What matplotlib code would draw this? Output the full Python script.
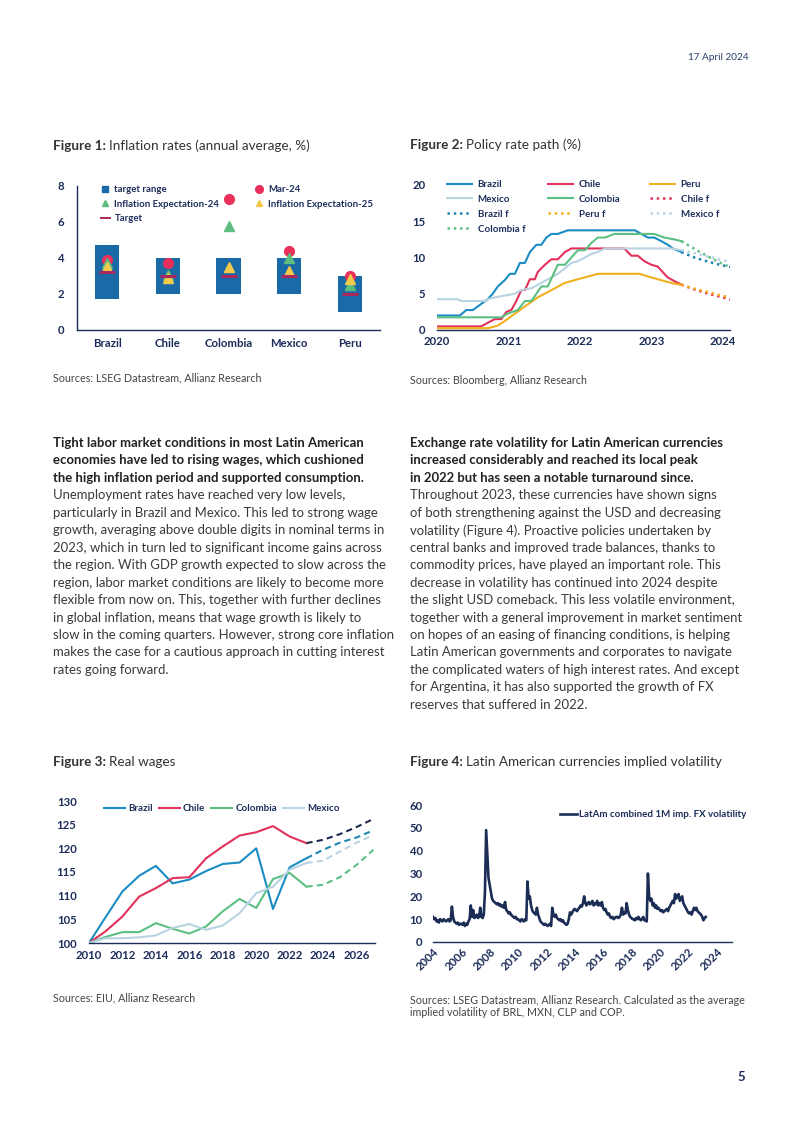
import matplotlib
matplotlib.use("Agg")
import matplotlib.pyplot as plt
from matplotlib.lines import Line2D
import numpy as np
import pandas as pd

# ---------------- data ----------------
# Figure 1
f1_countries = ["Brazil", "Chile", "Colombia", "Mexico", "Peru"]
f1_range_low = [1.75, 2.0, 2.0, 2.0, 1.0]
f1_range_high = [4.75, 4.0, 4.0, 4.0, 3.0]
f1_target = [3.25, 3.0, 3.0, 3.0, 2.0]
f1_mar24 = [3.9, 3.7, 7.3, 4.4, 3.0]
f1_exp24 = [3.7, 3.05, 5.8, 4.0, 2.5]
f1_exp25 = [3.5, 2.9, 3.5, 3.3, 2.85]

# Figure 2 (policy rates)
br_x = [2020.0, 2020.32, 2020.41, 2020.50, 2020.57, 2020.71, 2020.78, 2020.85, 2020.95, 2021.02, 2021.09,
        2021.16, 2021.23, 2021.30, 2021.39, 2021.46, 2021.53, 2021.60, 2021.69, 2021.83, 2022.77, 2022.86,
        2022.95, 2023.04, 2023.14, 2023.23, 2023.30, 2023.42]
br_y = [2.0, 2.0, 2.75, 2.75, 3.25, 4.25, 5.0, 6.0, 6.9, 7.75, 7.75, 9.25, 9.25, 10.75, 11.75, 11.75,
        12.75, 13.25, 13.25, 13.75, 13.75, 13.25, 12.75, 12.75, 12.25, 11.75, 11.25, 10.75]
cl_x = [2020.0, 2020.62, 2020.71, 2020.81, 2020.90, 2020.97, 2021.04, 2021.11, 2021.18, 2021.23, 2021.30,
        2021.37, 2021.41, 2021.51, 2021.60, 2021.69, 2021.79, 2021.88, 2022.62, 2022.72, 2022.81, 2022.90,
        2023.00, 2023.09, 2023.18, 2023.23, 2023.32, 2023.42]
cl_y = [0.5, 0.5, 1.0, 1.5, 1.5, 2.5, 2.75, 4.0, 5.5, 5.5, 7.0, 7.0, 8.0, 9.0, 9.75, 9.75, 10.75, 11.25,
        11.25, 10.25, 10.25, 9.5, 9.0, 8.75, 7.75, 7.25, 6.75, 6.25]
pe_x = [2020.0, 2020.71, 2020.85, 2020.95, 2021.09, 2021.23, 2021.41, 2021.60, 2021.79, 2021.97, 2022.16,
        2022.25, 2022.83, 2023.00, 2023.18, 2023.32, 2023.42]
pe_y = [0.25, 0.25, 0.6, 1.25, 2.25, 3.25, 4.5, 5.5, 6.5, 7.0, 7.5, 7.75, 7.75, 7.25, 6.75, 6.4, 6.25]
mx_x = [2020.0, 2020.29, 2020.34, 2020.67, 2020.71, 2020.81, 2020.95, 2021.09, 2021.18, 2021.32, 2021.46,
        2021.60, 2021.69, 2021.79, 2021.88, 2021.97, 2022.07, 2022.16, 2022.25, 2022.35, 2023.28, 2023.42]
mx_y = [4.25, 4.25, 4.0, 4.0, 4.25, 4.5, 4.75, 5.0, 5.5, 5.75, 6.5, 7.25, 7.75, 8.5, 9.25, 9.5, 10.0,
        10.5, 10.75, 11.25, 11.25, 11.0]
co_x = [2020.0, 2020.90, 2020.99, 2021.13, 2021.23, 2021.32, 2021.46, 2021.55, 2021.69, 2021.79, 2021.88,
        2021.97, 2022.07, 2022.16, 2022.25, 2022.35, 2022.48, 2023.04, 2023.18, 2023.32, 2023.42]
co_y = [1.75, 1.75, 2.25, 2.75, 4.0, 4.0, 6.0, 6.0, 9.0, 9.0, 10.0, 11.0, 11.0, 12.0, 12.75, 12.75,
        13.25, 13.25, 12.75, 12.5, 12.25]
fc_x = [2023.42, 2023.6, 2023.8, 2024.0, 2024.1]
br_f = [10.75, 10.0, 9.4, 8.9, 8.7]
cl_f = [6.25, 5.6, 5.0, 4.5, 4.2]
pe_f = [6.25, 5.7, 5.2, 4.7, 4.5]
mx_f = [11.0, 10.6, 10.1, 9.6, 9.4]
co_f = [12.25, 11.2, 10.1, 9.1, 8.7]

# Figure 3 (real wages, 2010 = 100)
w_years = list(range(2010, 2024))
w_fyears = list(range(2023, 2028))
w_brazil = [100, 105.5, 110.9, 114.2, 116.3, 112.6, 113.4, 115.2, 116.7, 117.0, 120.0, 107.2, 116.0, 117.9]
w_chile = [100, 102.5, 105.6, 109.8, 111.6, 113.7, 113.9, 117.9, 120.4, 122.7, 123.4, 124.7, 122.5, 121.1]
w_colombia = [100, 101.3, 102.3, 102.3, 104.2, 103.0, 102.0, 103.5, 106.7, 109.3, 107.4, 113.5, 114.8, 111.9]
w_mexico = [100, 101.0, 101.0, 101.2, 101.6, 103.2, 104.0, 102.8, 103.7, 106.3, 110.5, 111.9, 115.5, 116.9]
w_brazil_f = [117.9, 119.7, 121.2, 122.3, 123.8]
w_chile_f = [121.1, 121.8, 123.0, 124.5, 126.2]
w_colombia_f = [111.9, 112.3, 113.9, 116.5, 119.7]
w_mexico_f = [116.9, 117.4, 119.3, 121.2, 122.8]

# Figure 4 (implied volatility, monthly, Jan 2004 onwards)
v2004 = [11, 10, 10.5, 9, 9.5, 8.5, 10, 9.5, 9, 10, 9.5, 9]
v2005 = [9.5, 10, 9, 9.5, 15.5, 11, 9, 8.5, 8, 8.5, 7.5, 8]
v2006 = [8, 7.5, 8.5, 7, 8, 7.5, 9, 10, 16, 11, 14, 10.5]
v2007 = [11, 12, 10.5, 11, 15, 11, 10.5, 12, 22, 49, 38, 28]
v2008 = [25, 22, 19, 18, 17.5, 17, 16.5, 17, 16, 16.5, 15.5, 16]
v2009 = [15, 17.5, 14, 13.5, 12.5, 13, 12, 11.5, 11, 10.5, 11, 10]
v2010 = [10, 9.5, 9, 10, 9.5, 9, 10, 9.5, 26.5, 19, 20, 16]
v2011 = [14, 13, 12.5, 12, 15, 12, 10.5, 9, 8.5, 8, 7.5, 8]
v2012 = [7.5, 7, 7.5, 8, 7, 15, 12, 11, 12, 10.5, 10, 9.5]
v2013 = [10, 9, 9.5, 8.5, 8, 7.5, 8, 10, 13, 12, 13, 14]
v2014 = [14.5, 14, 13.5, 14.5, 15, 16, 15.5, 17, 20, 17, 16, 17]
v2015 = [17.5, 16.5, 17, 18, 16, 17, 16.5, 18, 16, 17, 16, 17.5]
v2016 = [15, 14, 14.5, 13, 12, 12.5, 11, 10.5, 11, 10, 10.5, 11]
v2017 = [11, 10.5, 11, 12, 15, 12, 13, 12.5, 17, 14, 12, 11]
v2018 = [10.5, 10, 10, 9.5, 10.5, 10, 11, 10, 9.5, 10, 11, 9.5]
v2019 = [9.5, 9, 30, 20, 18, 19, 16, 17, 15, 16, 14.5, 15]
v2020 = [14, 13.5, 14, 13, 13.5, 14, 14.5, 13.5, 15, 16, 17, 18]
v2021 = [17, 21, 19, 20, 21, 18, 19, 20, 17, 16, 15, 14]
v2022 = [13, 12.5, 13, 12, 13.5, 15, 14, 15, 13.5, 13, 12.5, 12]
v2023 = [11, 9.5, 10.5, 11]

# ---------------- style ----------------
W, H = 802, 1133
FONT = ["Lato", "DejaVu Sans"]
plt.rcParams["font.family"] = FONT
NAVY = "#1c2d5a"
BODY = "#3a3a3a"
DARK = "#222222"

fig = plt.figure(figsize=(W / 100, H / 100), dpi=100)
fig.patch.set_facecolor("white")
renderer = fig.canvas.get_renderer()


def fx(x):
    return x / W


def fy(y):
    return 1 - y / H


def add_ax(x0, y0, x1, y1):
    return fig.add_axes([fx(x0), fy(y1), (x1 - x0) / W, (y1 - y0) / H])


def text_width(s, size, weight="normal"):
    t = fig.text(0, 0, s, fontsize=size, fontweight=weight)
    w = t.get_window_extent(renderer).width
    t.remove()
    return w


def fit_size(s, target_px, weight="normal"):
    return 10 * target_px / text_width(s, 10, weight)


def title(x, y, bold, rest, size):
    t = fig.text(fx(x), fy(y), bold, fontsize=size, fontweight="bold", color="#333333", va="center")
    w = t.get_window_extent(renderer).width
    fig.text(fx(x + w + 3), fy(y), rest, fontsize=size, color="#333333", va="center")


TICK = fit_size("Colombia", 48, "bold")
LEG = fit_size("Colombia f", 47, "bold")


def style_ax(ax, ypad, xpad):
    for s in ["top", "right", "left"]:
        ax.spines[s].set_visible(False)
    ax.spines["bottom"].set_color(NAVY)
    ax.spines["bottom"].set_linewidth(1.0)
    ax.tick_params(length=0, colors=NAVY, labelsize=TICK)
    ax.tick_params(axis="y", pad=ypad)
    ax.tick_params(axis="x", pad=xpad)
    for lab in ax.get_xticklabels() + ax.get_yticklabels():
        lab.set_fontweight("bold")
    ax.set_facecolor("none")


# header / footer
fig.text(fx(749), fy(57), "17 April 2024", fontsize=7.2, color="#2a3f6e", ha="right", va="center")
fig.text(fx(745), fy(1077), "5", fontsize=9.5, color=NAVY, ha="right", va="center", fontweight="bold")

# titles
tsize = fit_size("Figure 1: Inflation rates (annual average, %)", 255, "normal")
title(53, 146, "Figure 1:", "Inflation rates (annual average, %)", tsize)
title(410, 145, "Figure 2:", "Policy rate path (%)", tsize)
title(53, 762, "Figure 3:", "Real wages", tsize)
title(410, 762, "Figure 4:", "Latin American currencies implied volatility", tsize)

# sources
ssize = fit_size("Sources: LSEG Datastream, Allianz Research", 209)
fig.text(fx(53), fy(378), "Sources: LSEG Datastream, Allianz Research", fontsize=ssize, color="#444444", va="center")
fig.text(fx(410), fy(380), "Sources: Bloomberg, Allianz Research", fontsize=ssize, color="#444444", va="center")
fig.text(fx(53), fy(998), "Sources: EIU, Allianz Research", fontsize=ssize, color="#444444", va="center")
fig.text(fx(410), fy(1000), "Sources: LSEG Datastream, Allianz Research. Calculated as the average",
         fontsize=ssize, color="#444444", va="center")
fig.text(fx(410), fy(1013), "implied volatility of BRL, MXN, CLP and COP.", fontsize=ssize, color="#444444", va="center")

# body text
left_bold = ["Tight labor market conditions in most Latin American",
             "economies have led to rising wages, which cushioned",
             "the high inflation period and supported consumption."]
left_reg = ["Unemployment rates have reached very low levels,",
            "particularly in Brazil and Mexico. This led to strong wage",
            "growth, averaging above double digits in nominal terms in",
            "2023, which in turn led to significant income gains across",
            "the region. With GDP growth expected to slow across the",
            "region, labor market conditions are likely to become more",
            "flexible from now on. This, together with further declines",
            "in global inflation, means that wage growth is likely to",
            "slow in the coming quarters. However, strong core inflation",
            "makes the case for a cautious approach in cutting interest",
            "rates going forward."]
right_bold = ["Exchange rate volatility for Latin American currencies",
              "increased considerably and reached its local peak",
              "in 2022 but has seen a notable turnaround since."]
right_reg = ["Throughout 2023, these currencies have shown signs",
             "of both strengthening against the USD and decreasing",
             "volatility (Figure 4). Proactive policies undertaken by",
             "central banks and improved trade balances, thanks to",
             "commodity prices, have played an important role. This",
             "decrease in volatility has continued into 2024 despite",
             "the slight USD comeback. This less volatile environment,",
             "together with a general improvement in market sentiment",
             "on hopes of an easing of financing conditions, is helping",
             "Latin American governments and corporates to navigate",
             "the complicated waters of high interest rates. And except",
             "for Argentina, it has also supported the growth of FX",
             "reserves that suffered in 2022."]
bsize = fit_size("together with a general improvement in market sentiment", 335)
lh = 17.45
for col_x, bl, rg in [(53, left_bold, left_reg), (410, right_bold, right_reg)]:
    y = 443
    for line in bl:
        fig.text(fx(col_x), fy(y), line, fontsize=bsize, fontweight="bold", color=DARK, va="center")
        y += lh
    for line in rg:
        fig.text(fx(col_x), fy(y), line, fontsize=bsize, color=BODY, va="center")
        y += lh

# ---------------- Figure 1 ----------------
ax1 = add_ax(77, 186, 380, 330)
xs = np.arange(len(f1_countries))
BAR = "#1a6aa8"
heights = [h - l for h, l in zip(f1_range_high, f1_range_low)]
ax1.bar(xs, heights, bottom=f1_range_low, width=0.4, color=BAR, zorder=2)
ax1.plot(xs, f1_mar24, ls="none", marker="o", ms=7, color="#e8305a", zorder=3)
ax1.plot(xs, f1_exp24, ls="none", marker="^", ms=7, color="#5dbd7e", zorder=4)
ax1.plot(xs, f1_exp25, ls="none", marker="^", ms=7, color="#f2c94c", zorder=5)
ax1.plot(xs, f1_target, ls="none", marker="_", ms=11, mew=2.2, color="#a8285e", zorder=6)
ax1.set_xlim(-0.5, 4.5)
ax1.set_ylim(0, 8)
ax1.set_yticks([0, 2, 4, 6, 8])
ax1.set_xticks(xs)
ax1.set_xticklabels(f1_countries)
style_ax(ax1, 9, 6)
ax1.spines["left"].set_visible(True)
ax1.spines["left"].set_color(NAVY)
ax1.spines["left"].set_linewidth(1.0)
ax1.spines["left"].set_bounds(0, 8)

L1 = fit_size("Inflation Expectation-24", 104, "bold")
h_range = Line2D([], [], ls="none", marker="s", ms=4.5, color=BAR)
h_mar = Line2D([], [], ls="none", marker="o", ms=5.5, color="#e8305a")
h_e24 = Line2D([], [], ls="none", marker="^", ms=5, color="#5dbd7e")
h_e25 = Line2D([], [], ls="none", marker="^", ms=5, color="#f2c94c")
h_tgt = Line2D([], [], color="#a8285e", lw=1.4)
lg_kw = dict(frameon=False, labelcolor=NAVY, handlelength=0.9, handletextpad=0.5,
             labelspacing=0.6, borderpad=0, borderaxespad=0, loc="upper left",
             prop={"weight": "bold", "size": L1})
fig.legend([h_range, h_e24, h_tgt], ["target range", "Inflation Expectation-24", "Target"],
           bbox_to_anchor=(fx(101), fy(185)), **lg_kw)
fig.legend([h_mar, h_e25], ["Mar-24", "Inflation Expectation-25"],
           bbox_to_anchor=(fx(255), fy(185)), **lg_kw)

# ---------------- Figure 2 ----------------
ax2 = add_ax(437, 185, 730, 330)
C_BR, C_CL, C_PE, C_MX, C_CO = "#1b8cc3", "#e2315b", "#f2b01e", "#b9d3e2", "#5cbf84"
l_br, = ax2.plot(br_x, br_y, color=C_BR, lw=1.5)
l_cl, = ax2.plot(cl_x, cl_y, color=C_CL, lw=1.5)
l_pe, = ax2.plot(pe_x, pe_y, color=C_PE, lw=1.5)
l_mx, = ax2.plot(mx_x, mx_y, color=C_MX, lw=1.5)
l_co, = ax2.plot(co_x, co_y, color=C_CO, lw=1.5)
dot = (0, (1, 1.5))
f_br, = ax2.plot(fc_x, br_f, color="#1d86ae", lw=1.8, ls=dot)
f_cl, = ax2.plot(fc_x, cl_f, color=C_CL, lw=1.8, ls=dot)
f_pe, = ax2.plot(fc_x, pe_f, color=C_PE, lw=1.8, ls=dot)
f_mx, = ax2.plot(fc_x, mx_f, color=C_MX, lw=1.8, ls=dot)
f_co, = ax2.plot(fc_x, co_f, color=C_CO, lw=1.8, ls=dot)
ax2.set_xlim(2020, 2024.1)
ax2.set_ylim(0, 20)
ax2.set_yticks([0, 5, 10, 15, 20])
ax2.set_xticks([2020, 2021, 2022, 2023, 2024])
style_ax(ax2, 8.5, 4.5)
cols2 = [(447, [l_br, l_mx, f_br, f_co], ["Brazil", "Mexico", "Brazil f", "Colombia f"]),
         (548, [l_cl, l_co, f_pe], ["Chile", "Colombia", "Peru f"]),
         (650, [l_pe, f_cl, f_mx], ["Peru", "Chile f", "Mexico f"])]
for cx, hh, ll in cols2:
    fig.legend(hh, ll, frameon=False, labelcolor=NAVY, handlelength=2.6, handletextpad=0.55,
               labelspacing=0.6, borderpad=0, borderaxespad=0, loc="upper left",
               bbox_to_anchor=(fx(cx), fy(180)), prop={"weight": "bold", "size": LEG})

# ---------------- Figure 3 ----------------
ax3 = add_ax(89, 801, 375, 943)
q_br, = ax3.plot(w_years, w_brazil, color=C_BR, lw=1.5)
q_cl, = ax3.plot(w_years, w_chile, color=C_CL, lw=1.5)
q_co, = ax3.plot(w_years, w_colombia, color=C_CO, lw=1.5)
q_mx, = ax3.plot(w_years, w_mexico, color=C_MX, lw=1.5)
dash = (0, (3, 2))
ax3.plot(w_fyears, w_brazil_f, color="#1d86ae", lw=1.5, ls=dash)
ax3.plot(w_fyears, w_chile_f, color="#1c2a50", lw=1.5, ls=dash)
ax3.plot(w_fyears, w_colombia_f, color=C_CO, lw=1.5, ls=dash)
ax3.plot(w_fyears, w_mexico_f, color=C_MX, lw=1.5, ls=dash)
ax3.set_xlim(2010, 2027.1)
ax3.set_ylim(100, 130)
ax3.set_yticks([100, 105, 110, 115, 120, 125, 130])
ax3.set_xticks(list(range(2010, 2027, 2)))
style_ax(ax3, 9, 5)
L3 = fit_size("Colombia", 41, "bold")
fig.legend([q_br, q_cl, q_co, q_mx], ["Brazil", "Chile", "Colombia", "Mexico"], ncol=4, frameon=False,
           labelcolor=NAVY, handlelength=2.2, handletextpad=0.3, columnspacing=0.6, borderpad=0,
           borderaxespad=0, loc="upper left", bbox_to_anchor=(fx(104), fy(804)),
           prop={"weight": "bold", "size": L3})

# ---------------- Figure 4 ----------------
ax4 = add_ax(433, 805, 732, 942)
vol = (v2004 + v2005 + v2006 + v2007 + v2008 + v2009 + v2010 + v2011 + v2012 + v2013 + v2014 + v2015
       + v2016 + v2017 + v2018 + v2019 + v2020 + v2021 + v2022 + v2023)
dates = pd.date_range("2004-01-01", periods=len(vol), freq="MS")
tyears = dates.year + (dates.month - 1) / 12.0
v_line, = ax4.plot(tyears, vol, color="#1b2d55", lw=1.9)
ax4.set_xlim(2004, 2025.1)
ax4.set_ylim(0, 60)
ax4.set_yticks([0, 10, 20, 30, 40, 50, 60])
ax4.set_xticks(list(range(2004, 2025, 2)))
style_ax(ax4, 7.5, 3)
for lab in ax4.get_xticklabels():
    lab.set_rotation(45)
    lab.set_ha("right")
    lab.set_va("top")
    lab.set_rotation_mode("anchor")
L4 = fit_size("LatAm combined 1M imp. FX volatility", 166, "bold")
fig.legend([v_line], ["LatAm combined 1M imp. FX volatility"], frameon=False, labelcolor=NAVY,
           handlelength=1.7, handletextpad=0.2, borderpad=0, borderaxespad=0, loc="upper right",
           bbox_to_anchor=(fx(746), fy(810)), prop={"weight": "bold", "size": L4})

fig.savefig("out.png", dpi=100, facecolor="white")
